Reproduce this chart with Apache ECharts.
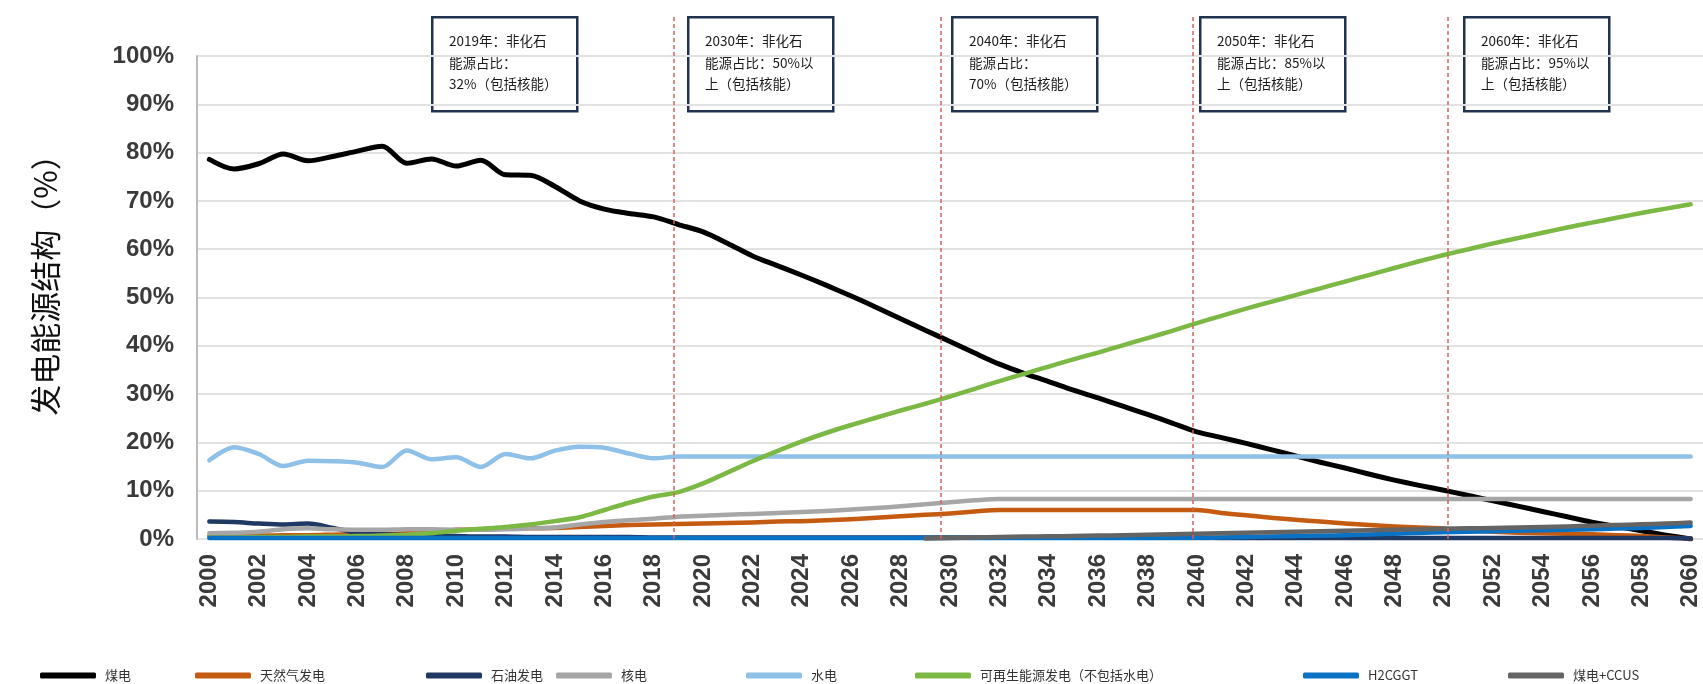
<!DOCTYPE html>
<html>
<head>
<meta charset="utf-8">
<script src="https://cdn.jsdelivr.net/npm/echarts@6/dist/echarts.min.js"></script>
<style>
  html, body { margin: 0; padding: 0; background: #ffffff; }
  #chart { width: 1703px; height: 684px; }
</style>
</head>
<body>
<div id="chart"></div>
<script>
// Years on the horizontal axis
const years = [
  '2000','2001','2002','2003','2004','2005','2006','2007','2008','2009',
  '2010','2011','2012','2013','2014','2015','2016','2017','2018','2019',
  '2020','2021','2022','2023','2024','2025','2026','2027','2028','2029',
  '2030','2031','2032','2033','2034','2035','2036','2037','2038','2039',
  '2040','2041','2042','2043','2044','2045','2046','2047','2048','2049',
  '2050','2051','2052','2053','2054','2055','2056','2057','2058','2059','2060'
];

// Share of generation by source (%)
const coal = [
  78.6, 76.6, 77.7, 79.7, 78.3, 79.2, 80.3, 81.3, 77.8, 78.7,
  77.2, 78.4, 75.4, 75.3, 73.0, 70.0, 68.3, 67.4, 66.7, 65.1,
  63.6, 61.2, 58.6, 56.6, 54.6, 52.5, 50.3, 48.0, 45.6, 43.2,
  40.9, 38.5, 36.2, 34.3, 32.6, 30.8, 29.2, 27.5, 25.8, 24.0,
  22.2, 21.0, 19.8, 18.5, 17.2, 15.9, 14.7, 13.4, 12.2, 11.1,
  10.1, 9.0, 7.9, 6.8, 5.7, 4.6, 3.5, 2.6, 1.7, 0.8, 0.0
];
const gas = [
  0.6, 0.6, 0.7, 0.8, 0.8, 0.9, 1.0, 1.0, 1.2, 1.5,
  1.9, 2.0, 2.1, 2.2, 2.3, 2.5, 2.7, 2.9, 3.0, 3.1,
  3.2, 3.3, 3.4, 3.6, 3.7, 3.9, 4.1, 4.4, 4.7, 5.0,
  5.3, 5.7, 6.0, 6.0, 6.0, 6.0, 6.0, 6.0, 6.0, 6.0,
  6.0, 5.4, 4.9, 4.4, 4.0, 3.6, 3.2, 2.9, 2.6, 2.4,
  2.2, 1.8, 1.5, 1.3, 1.2, 1.1, 1.0, 0.8, 0.6, 0.3, 0.1
];
const oil = [
  3.6, 3.5, 3.2, 3.0, 3.2, 2.3, 1.3, 1.0, 0.8, 0.7,
  0.6, 0.5, 0.5, 0.4, 0.4, 0.4, 0.4, 0.4, 0.3, 0.3,
  0.3, 0.3, 0.3, 0.3, 0.3, 0.3, 0.3, 0.3, 0.3, 0.3,
  0.3, 0.3, 0.3, 0.3, 0.3, 0.3, 0.3, 0.3, 0.3, 0.3,
  0.3, 0.2, 0.2, 0.2, 0.2, 0.2, 0.2, 0.2, 0.2, 0.2,
  0.2, 0.2, 0.2, 0.2, 0.2, 0.2, 0.2, 0.2, 0.2, 0.2, 0.1
];
const nuclear = [
  1.2, 1.3, 1.5, 2.0, 2.2, 2.0, 1.9, 1.9, 2.0, 2.0,
  1.9, 1.9, 2.0, 2.2, 2.4, 3.0, 3.5, 3.9, 4.2, 4.6,
  4.8, 5.0, 5.2, 5.4, 5.6, 5.8, 6.1, 6.4, 6.8, 7.2,
  7.6, 8.0, 8.3, 8.3, 8.3, 8.3, 8.3, 8.3, 8.3, 8.3,
  8.3, 8.3, 8.3, 8.3, 8.3, 8.3, 8.3, 8.3, 8.3, 8.3,
  8.3, 8.3, 8.3, 8.3, 8.3, 8.3, 8.3, 8.3, 8.3, 8.3, 8.3
];
const hydro = [
  16.3, 19.0, 17.6, 15.1, 16.2, 16.1, 15.8, 14.9, 18.3, 16.5,
  16.9, 14.9, 17.6, 16.7, 18.3, 19.1, 18.9, 17.7, 16.7, 17.1,
  17.1, 17.1, 17.1, 17.1, 17.1, 17.1, 17.1, 17.1, 17.1, 17.1,
  17.1, 17.1, 17.1, 17.1, 17.1, 17.1, 17.1, 17.1, 17.1, 17.1,
  17.1, 17.1, 17.1, 17.1, 17.1, 17.1, 17.1, 17.1, 17.1, 17.1,
  17.1, 17.1, 17.1, 17.1, 17.1, 17.1, 17.1, 17.1, 17.1, 17.1, 17.1
];
const renewable = [
  0.3, 0.3, 0.4, 0.4, 0.5, 0.5, 0.6, 0.7, 0.9, 1.2,
  1.7, 2.1, 2.5, 3.0, 3.7, 4.5, 6.0, 7.5, 8.8, 9.7,
  11.5, 13.8, 16.1, 18.2, 20.2, 22.0, 23.6, 25.1, 26.6, 28.0,
  29.5, 31.1, 32.7, 34.2, 35.7, 37.2, 38.6, 40.1, 41.6, 43.1,
  44.7, 46.2, 47.7, 49.1, 50.5, 51.9, 53.3, 54.7, 56.1, 57.5,
  58.8, 60.0, 61.2, 62.3, 63.4, 64.5, 65.5, 66.5, 67.5, 68.4, 69.3
];
const h2cggt = [
  0.2, 0.2, 0.2, 0.2, 0.2, 0.2, 0.2, 0.2, 0.2, 0.2,
  0.2, 0.2, 0.2, 0.2, 0.2, 0.2, 0.2, 0.2, 0.2, 0.2,
  0.2, 0.2, 0.2, 0.2, 0.2, 0.2, 0.2, 0.2, 0.2, 0.2,
  0.2, 0.2, 0.2, 0.2, 0.2, 0.2, 0.2, 0.2, 0.2, 0.2,
  0.2, 0.3, 0.4, 0.5, 0.6, 0.7, 0.8, 0.95, 1.1, 1.25,
  1.4, 1.5, 1.6, 1.7, 1.8, 1.9, 2.0, 2.15, 2.3, 2.5, 2.7
];
const coalCcus = [
  null, null, null, null, null, null, null, null, null, null,
  null, null, null, null, null, null, null, null, null, null,
  null, null, null, null, null, null, null, null, null, 0.1,
  0.2, 0.3, 0.4, 0.5, 0.55, 0.6, 0.7, 0.8, 0.9, 1.0,
  1.1, 1.2, 1.3, 1.4, 1.5, 1.6, 1.7, 1.8, 1.9, 2.0,
  2.1, 2.2, 2.3, 2.4, 2.5, 2.6, 2.75, 2.9, 3.05, 3.2, 3.4
];

// Milestone years marked with dashed guides
const milestoneYears = [2018.83, 2029.63, 2039.82, 2050.16];

// Milestone notes, one box each
const notes = [
  ['2019年：非化石', '能源占比：', '32%（包括核能）'],
  ['2030年：非化石', '能源占比：50%以', '上（包括核能）'],
  ['2040年：非化石', '能源占比：', '70%（包括核能）'],
  ['2050年：非化石', '能源占比：85%以', '上（包括核能）'],
  ['2060年：非化石', '能源占比：95%以', '上（包括核能）']
];

const seriesDefs = [
  { name: '煤电', data: coal, color: '#000000', width: 5 },
  { name: '天然气发电', data: gas, color: '#c55a11', width: 4.5 },
  { name: '石油发电', data: oil, color: '#1f3864', width: 4.5 },
  { name: '核电', data: nuclear, color: '#a6a6a6', width: 4.5 },
  { name: '水电', data: hydro, color: '#8ec0e8', width: 4.5 },
  { name: '可再生能源发电（不包括水电）', data: renewable, color: '#7cb944', width: 4.5 },
  { name: 'H2CGGT', data: h2cggt, color: '#0a72c4', width: 4.5 },
  { name: '煤电+CCUS', data: coalCcus, color: '#646464', width: 4.5 }
];

// Layout of the bottom legend entries and note boxes
const legendLefts = [35, 190, 421, 551, 741, 910, 1298, 1503];
const noteLefts = [431, 687, 951, 1199, 1463];

const CJK = '"Noto Sans CJK SC", "Noto Sans", sans-serif';
const LATIN = '"Liberation Sans", Arial, sans-serif';

const chart = echarts.init(document.getElementById('chart'), null, { renderer: 'canvas' });

const option = {
  animation: false,
  backgroundColor: '#ffffff',
  grid: [
    { left: 197, right: 0, top: 56, bottom: 145 },
    { left: 197, right: 0, top: 17, bottom: 145 }
  ],
  xAxis: [
    {
      type: 'category',
      gridIndex: 0,
      data: years,
      boundaryGap: true,
      axisLine: { show: false },
      axisTick: { show: false },
      axisLabel: {
        interval: 1,
        rotate: 90,
        margin: 15,
        fontSize: 24,
        fontWeight: 'bold',
        fontFamily: LATIN,
        color: '#3a3a3a'
      },
      splitLine: { show: false }
    },
    {
      type: 'value',
      gridIndex: 1,
      min: 1999.5,
      max: 2060.5,
      show: false
    }
  ],
  yAxis: [
    {
      type: 'value',
      gridIndex: 0,
      min: 0,
      max: 100,
      interval: 10,
      name: '发电能源结构（%）',
      nameLocation: 'middle',
      nameRotate: 90,
      nameGap: 136,
      nameTextStyle: { fontSize: 31, fontFamily: CJK, color: '#111111', padding: [0, 0, 0, 40] },
      axisLine: { show: true, lineStyle: { color: '#bcbcbc', width: 2 } },
      axisTick: { show: false },
      axisLabel: {
        formatter: '{value}%',
        margin: 23,
        fontSize: 24,
        fontWeight: 'bold',
        fontFamily: LATIN,
        color: '#3a3a3a'
      },
      splitLine: { show: true, lineStyle: { color: '#e2e2e2', width: 2 } }
    },
    {
      type: 'value',
      gridIndex: 1,
      min: 0,
      max: 1,
      show: false
    }
  ],
  legend: seriesDefs.map((s, i) => ({
    data: [s.name],
    left: legendLefts[i],
    top: 664,
    icon: 'roundRect',
    itemWidth: 56,
    itemHeight: 6,
    selectedMode: false,
    textStyle: { fontSize: 13, fontFamily: CJK, color: '#333333', padding: [0, 0, 0, 4] }
  })),
  series: seriesDefs.map(s => ({
    name: s.name,
    type: 'line',
    xAxisIndex: 0,
    yAxisIndex: 0,
    data: s.data,
    smooth: 0.3,
    symbol: 'none',
    connectNulls: false,
    lineStyle: { color: s.color, width: s.width, cap: 'round', join: 'round' },
    itemStyle: { color: s.color },
    emphasis: { disabled: true }
  })).concat([{
    name: 'milestones',
    type: 'line',
    xAxisIndex: 1,
    yAxisIndex: 1,
    data: [],
    silent: true,
    markLine: {
      silent: true,
      symbol: 'none',
      label: { show: false },
      lineStyle: { color: '#d9625c', width: 1.5, type: [4, 3] },
      data: milestoneYears.map(y => ({ xAxis: y }))
    }
  }]),
  graphic: notes.map((lines, i) => ({
    type: 'group',
    left: noteLefts[i],
    top: 16,
    z: 100,
    children: [
      {
        type: 'rect',
        shape: { x: 1.25, y: 1.25, width: 145, height: 94 },
        style: { fill: '#ffffff', stroke: '#1f3350', lineWidth: 2.5 }
      },
      {
        type: 'text',
        x: 18,
        y: 14,
        style: {
          text: lines.join('\n'),
          font: '13.5px ' + CJK,
          lineHeight: 21.7,
          fill: '#1a1a1a',
          verticalAlign: 'top'
        }
      }
    ]
  }))
};

chart.setOption(option);
</script>
</body>
</html>
